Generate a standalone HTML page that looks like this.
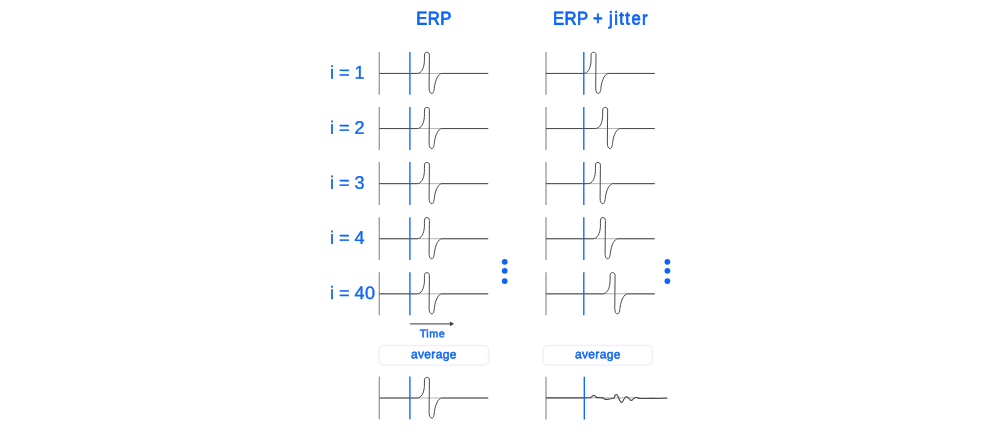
<!DOCTYPE html>
<html lang="en">
<head>
<meta charset="utf-8">
<title>ERP vs ERP + jitter</title>
<style>
html,body{margin:0;padding:0;background:#fff;}
body{width:1000px;height:442px;overflow:hidden;font-family:"Liberation Sans",sans-serif;}
svg{display:block;will-change:transform;}
text{font-family:"Liberation Sans",sans-serif;fill:#0d65f8;stroke:#0d65f8;stroke-linejoin:round;}
.ttl{font-size:18.5px;stroke-width:0.8px;letter-spacing:0.5px;}
.jit{letter-spacing:1.6px;}
.lab{font-size:18.1px;stroke-width:0.36px;letter-spacing:-0.05px;}
.d4{letter-spacing:0.55px;}
.time{font-size:10.9px;stroke-width:0.5px;letter-spacing:0.4px;}
.avg{font-size:12.1px;stroke-width:0.5px;letter-spacing:0.3px;}
.base{stroke:#a0a0a0;stroke-width:0.8;}
.axis{stroke:#989898;stroke-width:1.3;}
.wave{fill:none;stroke:#4a4a4a;stroke-width:1;stroke-linejoin:round;}
.onset{stroke:#0d65f8;stroke-width:1.35;}
.avgw{stroke-width:1.15;}
.btn{fill:#fff;stroke:#edf0fa;stroke-width:1.4;}
</style>
</head>
<body>
<svg width="1000" height="442" viewBox="0 0 1000 442">
<rect width="1000" height="442" fill="#ffffff"/>
<text class="ttl" transform="matrix(0.9 0.001 0 1 416.3 24.4)">ERP</text>
<text class="ttl" transform="matrix(0.9 0.001 0 1 553.0 24.4)"><tspan x="0">ERP</tspan> <tspan x="44.44">+</tspan> <tspan x="62.22" class="jit">jitter</tspan></text>
<text class="lab" transform="matrix(1.0 0.001 0 1 330.0 78.55)">i = 1</text>
<line class="base" x1="379.3" y1="73.45" x2="488.2" y2="73.45"/>
<line class="axis" x1="379.3" y1="51.90" x2="379.3" y2="94.80"/>
<path class="wave" d="M379.30,73.45 L416.90,73.45 C421.40,73.45 423.90,68.45 424.40,61.45 C424.50,59.45 424.40,56.95 424.45,54.85 C424.50,53.05 425.60,52.25 426.90,52.25 C428.30,52.25 429.40,53.05 429.40,55.05 L429.10,87.95 C429.15,91.45 430.10,93.50 431.90,93.50 C433.50,93.50 434.10,90.75 434.45,86.75 C435.40,79.95 438.30,73.55 441.90,73.45 L488.20,73.45"/>
<line class="onset" x1="409.9" y1="51.90" x2="409.9" y2="94.80"/>
<line class="base" x1="546.0" y1="73.45" x2="654.8" y2="73.45"/>
<line class="axis" x1="546.0" y1="51.90" x2="546.0" y2="94.80"/>
<path class="wave" d="M546.00,73.45 L583.50,73.45 C588.00,73.45 590.50,68.45 591.00,61.45 C591.10,59.45 591.00,56.95 591.05,54.85 C591.10,53.05 592.20,52.25 593.50,52.25 C594.90,52.25 596.00,53.05 596.00,55.05 L595.70,87.95 C595.75,91.45 596.70,93.50 598.50,93.50 C600.10,93.50 600.70,90.75 601.05,86.75 C602.00,79.95 604.90,73.55 608.50,73.45 L654.80,73.45"/>
<line class="onset" x1="583.8" y1="51.90" x2="583.8" y2="94.80"/>
<text class="lab" transform="matrix(1.0 0.001 0 1 330.0 133.65)">i = 2</text>
<line class="base" x1="379.3" y1="128.55" x2="488.2" y2="128.55"/>
<line class="axis" x1="379.3" y1="107.00" x2="379.3" y2="149.90"/>
<path class="wave" d="M379.30,128.55 L416.90,128.55 C421.40,128.55 423.90,123.55 424.40,116.55 C424.50,114.55 424.40,112.05 424.45,109.95 C424.50,108.15 425.60,107.35 426.90,107.35 C428.30,107.35 429.40,108.15 429.40,110.15 L429.10,143.05 C429.15,146.55 430.10,148.60 431.90,148.60 C433.50,148.60 434.10,145.85 434.45,141.85 C435.40,135.05 438.30,128.65 441.90,128.55 L488.20,128.55"/>
<line class="onset" x1="409.9" y1="107.00" x2="409.9" y2="149.90"/>
<line class="base" x1="546.0" y1="128.55" x2="654.8" y2="128.55"/>
<line class="axis" x1="546.0" y1="107.00" x2="546.0" y2="149.90"/>
<path class="wave" d="M546.00,128.55 L595.15,128.55 C599.65,128.55 602.15,123.55 602.65,116.55 C602.75,114.55 602.65,112.05 602.70,109.95 C602.75,108.15 603.85,107.35 605.15,107.35 C606.55,107.35 607.65,108.15 607.65,110.15 L607.35,143.05 C607.40,146.55 608.35,148.60 610.15,148.60 C611.75,148.60 612.35,145.85 612.70,141.85 C613.65,135.05 616.55,128.65 620.15,128.55 L654.80,128.55"/>
<line class="onset" x1="583.8" y1="107.00" x2="583.8" y2="149.90"/>
<text class="lab" transform="matrix(1.0 0.001 0 1 330.0 188.75)">i = 3</text>
<line class="base" x1="379.3" y1="183.65" x2="488.2" y2="183.65"/>
<line class="axis" x1="379.3" y1="162.10" x2="379.3" y2="205.00"/>
<path class="wave" d="M379.30,183.65 L416.90,183.65 C421.40,183.65 423.90,178.65 424.40,171.65 C424.50,169.65 424.40,167.15 424.45,165.05 C424.50,163.25 425.60,162.45 426.90,162.45 C428.30,162.45 429.40,163.25 429.40,165.25 L429.10,198.15 C429.15,201.65 430.10,203.70 431.90,203.70 C433.50,203.70 434.10,200.95 434.45,196.95 C435.40,190.15 438.30,183.75 441.90,183.65 L488.20,183.65"/>
<line class="onset" x1="409.9" y1="162.10" x2="409.9" y2="205.00"/>
<line class="base" x1="546.0" y1="183.65" x2="654.8" y2="183.65"/>
<line class="axis" x1="546.0" y1="162.10" x2="546.0" y2="205.00"/>
<path class="wave" d="M546.00,183.65 L587.90,183.65 C592.40,183.65 594.90,178.65 595.40,171.65 C595.50,169.65 595.40,167.15 595.45,165.05 C595.50,163.25 596.60,162.45 597.90,162.45 C599.30,162.45 600.40,163.25 600.40,165.25 L600.10,198.15 C600.15,201.65 601.10,203.70 602.90,203.70 C604.50,203.70 605.10,200.95 605.45,196.95 C606.40,190.15 609.30,183.75 612.90,183.65 L654.80,183.65"/>
<line class="onset" x1="583.8" y1="162.10" x2="583.8" y2="205.00"/>
<text class="lab" transform="matrix(1.0 0.001 0 1 330.0 243.85)">i = 4</text>
<line class="base" x1="379.3" y1="238.75" x2="488.2" y2="238.75"/>
<line class="axis" x1="379.3" y1="217.20" x2="379.3" y2="260.10"/>
<path class="wave" d="M379.30,238.75 L416.90,238.75 C421.40,238.75 423.90,233.75 424.40,226.75 C424.50,224.75 424.40,222.25 424.45,220.15 C424.50,218.35 425.60,217.55 426.90,217.55 C428.30,217.55 429.40,218.35 429.40,220.35 L429.10,253.25 C429.15,256.75 430.10,258.80 431.90,258.80 C433.50,258.80 434.10,256.05 434.45,252.05 C435.40,245.25 438.30,238.85 441.90,238.75 L488.20,238.75"/>
<line class="onset" x1="409.9" y1="217.20" x2="409.9" y2="260.10"/>
<line class="base" x1="546.0" y1="238.75" x2="654.8" y2="238.75"/>
<line class="axis" x1="546.0" y1="217.20" x2="546.0" y2="260.10"/>
<path class="wave" d="M546.00,238.75 L592.90,238.75 C597.40,238.75 599.90,233.75 600.40,226.75 C600.50,224.75 600.40,222.25 600.45,220.15 C600.50,218.35 601.60,217.55 602.90,217.55 C604.30,217.55 605.40,218.35 605.40,220.35 L605.10,253.25 C605.15,256.75 606.10,258.80 607.90,258.80 C609.50,258.80 610.10,256.05 610.45,252.05 C611.40,245.25 614.30,238.85 617.90,238.75 L654.80,238.75"/>
<line class="onset" x1="583.8" y1="217.20" x2="583.8" y2="260.10"/>
<text class="lab" transform="matrix(1.0 0.001 0 1 330.0 298.95)">i = <tspan class="d4">4</tspan>0</text>
<line class="base" x1="379.3" y1="293.85" x2="488.2" y2="293.85"/>
<line class="axis" x1="379.3" y1="272.30" x2="379.3" y2="315.20"/>
<path class="wave" d="M379.30,293.85 L416.90,293.85 C421.40,293.85 423.90,288.85 424.40,281.85 C424.50,279.85 424.40,277.35 424.45,275.25 C424.50,273.45 425.60,272.65 426.90,272.65 C428.30,272.65 429.40,273.45 429.40,275.45 L429.10,308.35 C429.15,311.85 430.10,313.90 431.90,313.90 C433.50,313.90 434.10,311.15 434.45,307.15 C435.40,300.35 438.30,293.95 441.90,293.85 L488.20,293.85"/>
<line class="onset" x1="409.9" y1="272.30" x2="409.9" y2="315.20"/>
<line class="base" x1="546.0" y1="293.85" x2="654.8" y2="293.85"/>
<line class="axis" x1="546.0" y1="272.30" x2="546.0" y2="315.20"/>
<path class="wave" d="M546.00,293.85 L602.55,293.85 C607.05,293.85 609.55,288.85 610.05,281.85 C610.15,279.85 610.05,277.35 610.10,275.25 C610.15,273.45 611.25,272.65 612.55,272.65 C613.95,272.65 615.05,273.45 615.05,275.45 L614.75,308.35 C614.80,311.85 615.75,313.90 617.55,313.90 C619.15,313.90 619.75,311.15 620.10,307.15 C621.05,300.35 623.95,293.95 627.55,293.85 L654.80,293.85"/>
<line class="onset" x1="583.8" y1="272.30" x2="583.8" y2="315.20"/>
<circle cx="504.7" cy="261.8" r="2.9" fill="#0d65f8"/>
<circle cx="504.7" cy="270.8" r="2.9" fill="#0d65f8"/>
<circle cx="504.7" cy="281.1" r="2.9" fill="#0d65f8"/>
<circle cx="667.4" cy="261.8" r="2.9" fill="#0d65f8"/>
<circle cx="667.4" cy="270.8" r="2.9" fill="#0d65f8"/>
<circle cx="667.4" cy="281.1" r="2.9" fill="#0d65f8"/>
<line x1="410" y1="323.8" x2="451" y2="323.8" stroke="#606060" stroke-width="1.2"/>
<path d="M449.9,321.45 L454.2,323.8 L449.9,326.15 Z" fill="#444"/>
<text class="time" transform="matrix(1.0 0.001 0 1 419.7 337.15)">Time</text>
<rect class="btn" x="379.1" y="345.5" width="109.4" height="19.6" rx="4.5" ry="4.5"/>
<text class="avg" transform="matrix(1.0 0.001 0 1 410.9 358.35)">average</text>
<rect class="btn" x="542.9" y="345.5" width="109.4" height="19.6" rx="4.5" ry="4.5"/>
<text class="avg" transform="matrix(1.0 0.001 0 1 574.9 358.35)">average</text>
<line class="base" x1="379.3" y1="398.0" x2="488.2" y2="398.0"/>
<line class="axis" x1="379.3" y1="376.45" x2="379.3" y2="419.35"/>
<path class="wave" d="M379.30,398.00 L416.90,398.00 C421.40,398.00 423.90,393.14 424.40,386.34 C424.50,384.39 424.40,381.96 424.45,379.92 C424.50,378.17 425.60,377.39 426.90,377.39 C428.30,377.39 429.40,378.17 429.40,380.12 L429.10,412.50 C429.15,416.00 430.10,418.05 431.90,418.05 C433.50,418.05 434.10,415.30 434.45,411.30 C435.40,404.50 438.30,398.10 441.90,398.00 L488.20,398.00"/>
<line class="onset" x1="409.9" y1="376.45" x2="409.9" y2="419.35"/>
<line class="base" x1="546.0" y1="397.85" x2="654.8" y2="397.85"/>
<line class="axis" x1="546.0" y1="376.65" x2="546.0" y2="419.55"/>
<path class="wave avgw" d="M546.0,397.85 L584.3,397.85 L584.30,397.80 C584.92,397.80 586.95,397.83 588.00,397.80 C589.05,397.77 589.93,397.83 590.60,397.60 C591.27,397.37 591.48,396.80 592.00,396.40 C592.52,396.00 593.15,395.22 593.70,395.20 C594.25,395.18 594.82,395.93 595.30,396.30 C595.78,396.67 595.98,397.18 596.60,397.40 C597.22,397.62 597.90,397.52 599.00,397.60 C600.10,397.68 602.15,397.60 603.20,397.90 C604.25,398.20 604.20,399.22 605.30,399.40 C606.40,399.58 608.45,399.18 609.80,399.00 C611.15,398.82 612.63,398.60 613.40,398.30 C614.17,398.00 614.10,397.72 614.40,397.20 C614.70,396.68 614.87,395.63 615.20,395.20 C615.53,394.77 616.03,394.58 616.40,394.60 C616.77,394.62 617.00,394.70 617.40,395.30 C617.80,395.90 618.32,397.17 618.80,398.20 C619.28,399.23 619.85,400.78 620.30,401.50 C620.75,402.22 621.10,402.50 621.50,402.50 C621.90,402.50 622.20,402.22 622.70,401.50 C623.20,400.78 623.98,398.97 624.50,398.20 C625.02,397.43 625.47,397.15 625.80,396.90 C626.13,396.65 626.27,396.68 626.50,396.70 C626.73,396.72 626.83,396.75 627.20,397.00 C627.57,397.25 628.13,397.67 628.70,398.20 C629.27,398.73 630.15,399.83 630.60,400.20 C631.05,400.57 631.13,400.42 631.40,400.40 C631.67,400.38 631.80,400.42 632.20,400.10 C632.60,399.78 633.23,398.93 633.80,398.50 C634.37,398.07 635.10,397.65 635.60,397.50 C636.10,397.35 636.20,397.45 636.80,397.60 C637.40,397.75 637.83,398.26 639.20,398.40 C640.57,398.54 642.20,398.45 645.00,398.45 C647.80,398.45 652.27,398.46 656.00,398.40 C659.73,398.34 665.50,398.15 667.40,398.10"/>
<line class="onset" x1="584.3" y1="376.65" x2="584.3" y2="419.55"/>
</svg>
</body>
</html>
